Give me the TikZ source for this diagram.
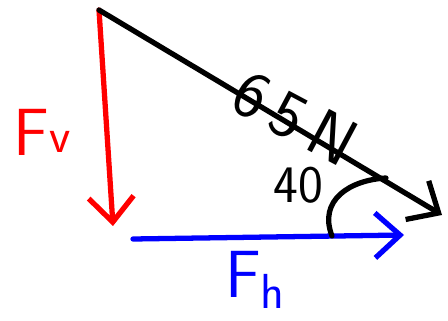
\documentclass[tikz,border=0pt]{standalone}
\usepackage{tikz}
\usetikzlibrary{arrows.meta}
\tikzset{
    % pen strokes of the sketch
    pen/.style={
        line width=3pt,
        line cap=round,
        line join=round
    },
    force arrow/.style={
        pen,
        -{Straight Barb[length=5mm, width=9mm, line width=3pt]}
    },
    label text/.style={
        font=\sffamily\fontsize{38}{38}\selectfont,
        inner sep=0pt
    },
    angle text/.style={
        font=\sffamily\fontsize{30}{30}\selectfont,
        inner sep=0pt
    }
}
\begin{document}
\begin{tikzpicture}[x=0.02cm, y=-0.02cm]
        \useasboundingbox (0,0) rectangle (448,320);

        % corners of the triangle
        \coordinate (top) at (99,10);
        \coordinate (vend) at (113,226);
        \coordinate (hstart) at (133,239);
        \coordinate (hend) at (404,235);
        \coordinate (rend) at (442,215);

        % forces
        \draw[force arrow, red] (top) -- (vend);
        \draw[force arrow, blue] (hstart) -- (hend);
        \draw[force arrow, black] (top) -- (rend);

        % angle
        \draw[pen] (332,236) .. controls (318,200) and (350,180) .. (386,178);

        % labels
        \node[label text, text=red] (fv) at (42,132) {F\raisebox{0.1ex}{\fontsize{28}{28}\selectfont v}};
        \node[label text, text=blue] (fh) at (255,280) {F\raisebox{-0.4ex}{\fontsize{28}{28}\selectfont h}};
        \node[label text, rotate=-28] (force) at (295,118) {6\,5\,N};
        \node[angle text] (angle) at (298,185) {40};
    \end{tikzpicture}
\end{document}
